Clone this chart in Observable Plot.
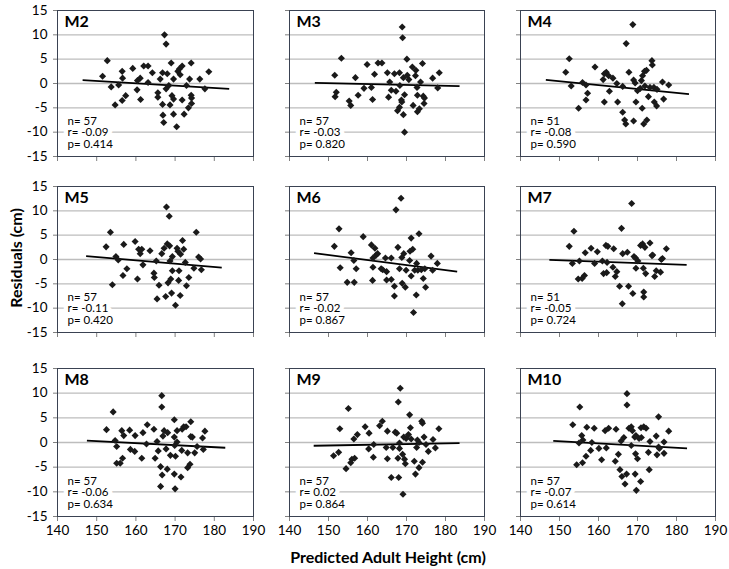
<!DOCTYPE html>
<html>
<head>
<meta charset="utf-8">
<script src="https://cdn.jsdelivr.net/npm/d3@7"></script>
<script src="https://cdn.jsdelivr.net/npm/@observablehq/plot@0.6"></script>
<style>
  body { margin: 0; background: #fff; }
  #chart { position: relative; width: 729px; height: 569px; font-family: Lato, "Open Sans", sans-serif; }
  #chart svg { position: absolute; overflow: visible; }
  .lbl { position: absolute; font-weight: bold; font-size: 16px; color: #000; white-space: nowrap; }
</style>
</head>
<body>
<div id="chart"></div>
<script>
// ---- data ----
const panelNames = ["M2", "M3", "M4", "M5", "M6", "M7", "M8", "M9", "M10"];
const nVals = [57, 57, 51, 57, 57, 51, 57, 57, 57];
const rVals = ["-0.09", "-0.03", "-0.08", "-0.11", "-0.02", "-0.05", "-0.06", "0.02", "-0.07"];
const pVals = ["0.414", "0.820", "0.590", "0.420", "0.867", "0.724", "0.634", "0.864", "0.614"];
const xTicks = [140, 150, 160, 170, 180, 190];
const yTicks = [-15, -10, -5, 0, 5, 10, 15];
const gridVals = [-10, -5, 0, 5, 10];

// trend line endpoints [x1, y1, x2, y2]
const trendM2 = [146.4, 0.7, 183.8, -1.1];
const trendM3 = [146.5, 0.14, 183.6, -0.55];
const trendM4 = [146.5, 0.75, 183.2, -2.2];
const trendM5 = [147.3, 0.69, 181.9, -1.66];
const trendM6 = [146.3, 1.3, 183.0, -2.5];
const trendM7 = [147.4, -0.07, 182.6, -1.1];
const trendM8 = [147.5, 0.4, 182.8, -1.06];
const trendM9 = [146.2, -0.66, 183.6, -0.13];
const trendM10 = [148.4, 0.33, 182.7, -1.18];

// points [predicted height, residual]
const m2 = [[152.7,4.7],[151.5,1.5],[153.7,-0.7],[154.7,-4.4],[155.6,-0.3],[156.5,2.5],[156.6,1.1],[156.5,-3.5],[157.4,-2.5],[159.2,3.1],[160.3,-1.3],[160.4,0.6],[161.1,1.1],[161.2,-3.3],[162.0,3.6],[163.1,3.6],[163.1,0.2],[164.2,2.2],[165.6,-1.9],[165.6,-2.8],[166.2,0.9],[166.8,2.2],[166.8,-4.3],[166.9,-6.5],[167.1,-8.0],[167.3,10.0],[167.7,8.1],[167.7,-1.1],[168.0,2.0],[168.4,-0.4],[168.7,-4.4],[169.0,4.2],[169.2,-2.5],[169.6,-3.2],[169.6,-6.3],[169.6,0.9],[170.4,-8.9],[170.7,2.5],[171.1,3.0],[171.3,1.8],[171.8,3.6],[171.8,-3.4],[172.3,-6.3],[172.9,-0.4],[173.4,-5.0],[173.7,0.9],[174.1,4.2],[174.1,-2.4],[174.2,-3.0],[174.2,-4.1],[176.3,0.9],[177.6,-1.1],[178.6,2.4]];
const m3 = [[153.3,5.2],[151.6,1.7],[152.0,-1.8],[151.7,-2.7],[155.3,-3.6],[155.7,-4.5],[156.9,1.2],[157.6,-2.4],[159.1,-1.0],[159.9,3.9],[161.0,-0.8],[161.3,-3.3],[161.8,1.9],[162.7,4.2],[163.7,4.2],[165.1,2.2],[165.4,-2.8],[165.7,0.3],[166.1,-1.4],[166.9,2.0],[167.3,-1.6],[167.7,-5.6],[168.2,2.2],[168.2,-4.9],[168.3,-0.4],[168.7,-3.4],[168.8,-3.8],[168.9,11.6],[169.0,9.4],[169.2,1.2],[169.2,-6.4],[169.5,-2.3],[169.5,-10.0],[170.1,5.0],[170.2,1.7],[170.6,0.8],[171.5,3.4],[171.7,-4.5],[172.3,1.6],[172.4,2.7],[172.7,-0.8],[172.8,-2.4],[172.8,-5.8],[173.3,-5.2],[173.6,0.3],[174.1,4.1],[174.3,-2.6],[174.6,-3.0],[174.5,-4.1],[176.7,1.1],[178.0,-0.9],[178.4,2.2]];
const m4 = [[152.5,5.1],[151.6,2.3],[153.0,-0.5],[154.9,-5.1],[155.9,0.2],[156.8,-0.3],[157.2,-2.0],[156.8,-3.4],[159.1,3.4],[161.2,0.8],[161.5,2.0],[161.5,-3.8],[162.0,2.3],[162.6,1.6],[162.8,-1.6],[163.7,1.1],[164.7,0.0],[164.9,-3.8],[166.2,-0.6],[166.2,-5.9],[166.7,-7.5],[167.0,-8.3],[167.1,8.2],[167.8,2.3],[168.8,12.1],[169.0,0.7],[169.0,-7.7],[169.4,0.1],[169.6,-3.8],[170.0,-1.5],[170.7,-1.0],[171.0,0.6],[171.2,-5.1],[171.3,1.6],[171.6,-8.3],[171.8,2.5],[171.9,-0.5],[172.4,-7.5],[172.3,2.7],[172.8,-2.7],[173.2,-0.8],[173.7,4.7],[173.8,3.8],[174.2,-0.8],[174.3,-3.8],[174.9,-4.6],[175.0,-1.2],[176.4,0.3],[176.7,-3.2],[178.0,-0.3]];
const m5 = [[152.4,2.6],[153.5,5.6],[154.0,-5.2],[154.9,0.6],[155.5,-0.1],[156.9,3.1],[156.7,-3.3],[157.7,-1.9],[159.8,3.7],[160.4,-4.0],[160.7,2.1],[161.1,1.2],[161.5,2.1],[161.8,-1.1],[163.6,1.8],[164.6,-2.8],[164.7,-3.7],[165.2,-0.3],[165.4,-8.1],[165.9,-5.3],[166.6,1.2],[167.2,2.3],[167.6,-7.6],[167.8,10.8],[168.0,3.2],[168.2,-4.8],[168.5,8.9],[168.6,2.8],[168.7,-0.3],[168.9,-4.0],[169.1,-6.9],[169.3,-2.3],[169.3,0.6],[170.1,-9.4],[170.5,2.3],[170.7,1.7],[170.9,-4.3],[171.0,-2.3],[171.3,-7.4],[171.4,1.1],[171.9,3.9],[172.2,2.1],[172.6,-0.6],[172.9,-5.4],[173.5,-3.7],[174.8,-1.8],[175.4,5.6],[176.0,0.5],[176.5,0.1],[176.7,-2.1]];
const m6 = [[151.5,2.7],[152.7,6.3],[153.0,-1.7],[154.8,-4.7],[155.8,1.4],[156.5,-0.2],[156.6,-4.7],[157.1,-1.9],[158.9,4.7],[161.0,3.0],[161.4,0.3],[161.4,-1.6],[161.3,-4.3],[161.9,2.3],[162.2,0.9],[162.6,1.2],[163.5,-1.9],[163.9,-2.1],[164.6,0.3],[164.9,-2.5],[164.9,-4.2],[166.1,0.3],[166.1,-4.1],[166.9,-5.5],[166.9,-7.5],[167.3,10.2],[167.8,2.5],[168.2,-1.9],[168.6,12.6],[168.8,0.4],[168.9,-4.9],[169.3,1.2],[169.7,-5.7],[169.9,-2.2],[170.8,-0.2],[170.9,1.7],[171.2,4.4],[171.2,-3.4],[171.6,2.1],[171.8,-10.9],[172.1,-2.2],[172.5,-7.3],[172.6,-0.8],[172.9,-2.2],[173.2,5.3],[173.8,-2.1],[174.3,-3.9],[174.7,-1.9],[174.9,-5.7],[176.3,0.7],[176.7,-2.2],[177.9,-0.8]];
const m7 = [[152.5,2.7],[153.7,5.8],[153.3,-0.8],[155.1,-0.3],[154.8,-4.0],[155.8,-3.9],[156.4,-3.3],[156.6,1.4],[158.1,2.3],[159.0,-0.8],[159.7,1.6],[161.0,-0.3],[161.3,-2.9],[161.9,2.9],[162.1,-2.7],[162.2,-0.6],[162.4,2.7],[163.7,-1.6],[163.9,2.2],[164.3,-3.5],[164.7,-2.5],[165.4,-5.5],[165.9,6.4],[166.1,-9.1],[166.2,1.2],[167.4,1.5],[167.7,-5.5],[168.5,11.5],[168.8,-7.0],[169.1,0.6],[169.5,0.3],[169.6,-1.8],[170.1,-0.3],[170.8,2.9],[171.3,3.2],[171.5,-1.8],[171.6,-6.7],[171.6,-7.7],[171.9,2.5],[172.1,-2.9],[173.2,3.4],[173.7,0.8],[173.9,0.9],[174.4,-3.5],[174.8,-2.3],[175.9,-2.6],[176.1,0.0],[176.4,0.2],[177.4,2.2]];
const m8 = [[152.5,2.6],[154.2,6.2],[154.7,0.4],[155.1,-0.8],[155.1,-4.2],[156.0,-4.2],[156.4,2.4],[156.6,-3.2],[156.9,1.4],[158.4,2.5],[158.6,-1.4],[159.8,1.4],[159.7,-1.8],[161.5,-3.2],[161.8,2.0],[162.9,3.6],[162.7,-0.3],[164.6,2.7],[164.9,-3.2],[165.4,0.2],[165.7,-1.7],[166.3,-4.9],[166.3,-8.9],[166.6,9.5],[166.6,7.2],[166.7,-6.6],[166.9,1.3],[167.2,2.4],[167.7,-1.3],[168.0,-5.4],[168.1,2.0],[168.8,-2.6],[169.8,4.6],[169.8,1.1],[169.8,-6.4],[169.9,-0.6],[170.0,-9.4],[170.1,-2.8],[170.5,2.4],[170.5,0.1],[171.5,-7.0],[171.7,-1.6],[171.8,2.7],[172.2,3.2],[172.8,3.2],[173.2,-2.1],[173.2,-5.1],[173.8,-4.4],[174.0,4.2],[174.0,1.2],[174.4,1.1],[175.0,-2.1],[175.6,-0.8],[177.0,0.9],[177.2,-1.4],[177.6,2.3]];
const m9 = [[151.3,-2.7],[152.6,-2.0],[152.9,2.8],[154.5,-5.3],[155.1,6.9],[155.7,-4.1],[156.0,-3.4],[156.7,-3.2],[156.5,0.7],[157.4,1.6],[159.4,3.2],[160.4,1.9],[160.3,-1.3],[161.5,-3.0],[161.6,-0.4],[163.1,3.4],[163.8,4.3],[164.8,-1.0],[165.1,2.3],[165.1,-3.3],[166.1,-7.1],[166.5,-1.0],[167.1,2.1],[167.5,1.9],[167.8,-3.2],[167.9,8.2],[168.0,-7.1],[168.2,-0.1],[168.4,11.0],[168.2,-1.2],[169.0,-2.4],[169.1,-10.5],[169.3,1.1],[169.5,-3.4],[169.7,-4.3],[169.9,0.8],[170.5,1.6],[170.8,5.6],[171.0,3.0],[171.2,0.7],[172.0,-3.8],[172.3,-6.4],[172.6,-1.0],[172.8,0.5],[173.2,-5.1],[173.2,0.0],[173.9,4.3],[174.1,3.9],[174.1,-4.0],[174.5,1.1],[175.0,-0.4],[175.6,-1.8],[176.8,0.6],[177.4,-1.1],[178.3,2.8]];
const m10 = [[153.4,3.6],[154.4,-4.5],[155.0,-0.1],[155.2,7.2],[155.7,1.4],[155.9,-4.1],[156.0,0.5],[156.8,-2.8],[157.0,3.1],[158.0,-1.6],[158.3,0.0],[158.9,2.9],[160.1,-1.2],[160.8,-3.5],[161.7,2.4],[162.0,-1.1],[162.6,2.9],[164.3,-3.8],[164.5,2.7],[165.1,-2.4],[165.5,-5.5],[165.8,0.3],[166.0,-6.9],[166.5,1.0],[166.8,-8.4],[167.2,-6.4],[167.3,9.9],[167.3,7.6],[167.8,2.9],[168.4,3.2],[168.4,-0.6],[168.7,2.4],[169.3,1.1],[169.4,-6.4],[169.5,-2.3],[169.6,1.4],[169.7,-9.7],[170.0,-3.3],[170.4,0.8],[170.8,-7.9],[170.9,3.0],[171.0,1.0],[171.6,3.2],[172.2,2.9],[172.8,-2.0],[173.0,-5.5],[173.2,0.2],[174.8,1.3],[175.0,-2.5],[175.4,5.2],[175.4,-0.9],[175.6,-1.2],[176.8,0.1],[176.8,-2.2],[178.0,2.3]];

const panelPoints = [m2, m3, m4, m5, m6, m7, m8, m9, m10];
const panelTrends = [trendM2, trendM3, trendM4, trendM5, trendM6, trendM7, trendM8, trendM9, trendM10];

// ---- layout ----
const colLeft = [57, 289, 520];
const colWidth = [196, 195, 195];
const rowTop = [10, 186, 368];
const rowHeight = [146, 146, 148];
const ml = 50, mr = 6, mt = 6, mb = 28;

const chart = document.getElementById("chart");

panelNames.forEach((name, i) => {
  const col = i % 3, row = Math.floor(i / 3);
  const pw = colWidth[col], ph = rowHeight[row];
  const t = panelTrends[i];
  const statLines = [`n= ${nVals[i]}`, `r= ${rVals[i]}`, `p= ${pVals[i]}`];
  const statOpts = (j) => ({frameAnchor: "bottom-left", dx: 10, dy: -9 - (2 - j) * 11.5, lineAnchor: "bottom", textAnchor: "start", fontSize: 11.5});
  // white backing behind the statistics block (drawn first), then the text itself
  const statHalos = statLines.map((s, j) => Plot.text([s], {...statOpts(j), fill: "#fff", stroke: "#fff", strokeWidth: 9}));
  const statTexts = statLines.map((s, j) => Plot.text([s], {...statOpts(j), fill: "#000"}));
  const svg = Plot.plot({
    width: pw + ml + mr,
    height: ph + mt + mb,
    marginLeft: ml, marginRight: mr, marginTop: mt, marginBottom: mb,
    style: {fontFamily: "Lato, 'Open Sans', sans-serif", fontSize: "13px", color: "#000", background: "transparent", overflow: "visible"},
    x: {domain: [140, 190]},
    y: {domain: [-15, 15]},
    marks: [
      Plot.ruleY(gridVals, {stroke: "#bdbdbd", strokeWidth: 1.3}),
      ...statHalos,
      ...statTexts,
      Plot.axisY(yTicks, {tickSize: 4, tickPadding: 6, stroke: "#808080", fontSize: 13.5,
        tickFormat: col === 0 ? (d => String(d)) : (() => ""), label: null}),
      Plot.axisX(xTicks, {tickSize: 5, tickPadding: 4, stroke: "#808080", fontSize: 13.5,
        tickFormat: row === 2 ? (d => String(d)) : (() => ""), label: null}),
      Plot.frame({stroke: "#3a4252", strokeWidth: 1}),
      Plot.link([t], {x1: d => d[0], y1: d => d[1], x2: d => d[2], y2: d => d[3], stroke: "#000", strokeWidth: 1.8}),
      Plot.dot(panelPoints[i], {x: d => d[0], y: d => d[1], symbol: "diamond2", r: 3.2, fill: "#1a1a1a", stroke: "none"}),
      Plot.text([name], {frameAnchor: "top-left", dx: 7, dy: 5, lineAnchor: "top", textAnchor: "start",
        fontWeight: "bold", fontSize: 16, fill: "#000"})
    ]
  });
  svg.style.left = (colLeft[col] - ml) + "px";
  svg.style.top = (rowTop[row] - mt) + "px";
  chart.appendChild(svg);
});

const yl = document.createElement("div");
yl.className = "lbl";
yl.textContent = "Residuals (cm)";
yl.style.left = "15px";
yl.style.top = "258px";
yl.style.transform = "translate(-50%, -50%) rotate(-90deg)";
chart.appendChild(yl);

const xl = document.createElement("div");
xl.className = "lbl";
xl.textContent = "Predicted Adult Height (cm)";
xl.style.left = "388px";
xl.style.top = "556px";
xl.style.transform = "translate(-50%, -50%)";
chart.appendChild(xl);
</script>
</body>
</html>
